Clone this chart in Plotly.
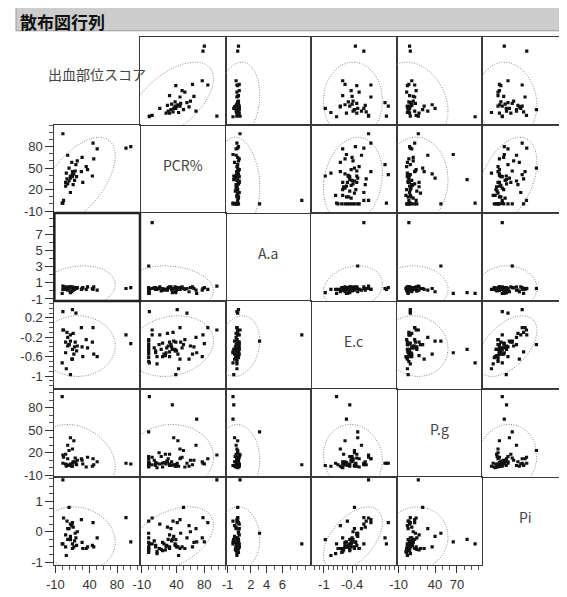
import numpy as np
import plotly.graph_objects as go

# ---------------- data ----------------
labels = ["出血部位スコア", "PCR%", "A.a", "E.c", "P.g", "Pi"]

score = [100, 93, 1, None, None, 0, None, None, 45, 46, 44, 51, 8, 22, 20, 37, 35, 14, 1, 15, 12,
         None, None, None, None, None, None, None, None,
         None, None, None, None, 5, 5, None, 7, None, 8, None, 10, None, None, 12, None, None, 15, 15, 16, 17, 18, 19, None, 21,
         None, 2, 12, 6, None, 29, 28, 30, 10]
pcr = [80, 78, 98, 5, 0, 1, 34, 69, 85, 63, 39, 77, 68, 60, 55, 48, 52, 58, 1, 41, 39,
       0, 0, 0, 0, 0, 0, 0, 0,
       10, 15, 20, 8, 25, 30, 18, 35, 22, 28, 40, 32, 12, 26, 36, 30, 20, 45, 38, 27, 42, 33, 46, 24, 38,
       12, 5, 16, 43, 10, 65, 45, 30, 50]
aa = [0.4, 0.3, 0.6, 8.5, 3.1, -0.3, -0.2, -0.3, 0.2, 0.5, 0.3, 0.1, 0.1, 0.4, 0.3, 0.5, 0.2, -0.1, 0.2, 0.4, -0.2,
      0.1, 0.3, -0.1, 0.2, 0.4, 0.0, 0.2, -0.3,
      0.2, 0.3, 0.1, 0.4, 0.2, 0.5, 0.0, 0.3, 0.2, 0.4, 0.1, 0.5, 0.3, 0.2, -0.1, 0.4, 0.3, 0.2, 0.5, 0.1, 0.3, 0.2, 0.4, 0.1, 0.3,
      0.2, 0.3, 0.5, 0.2, 0.4, 0.3, 0.2, 0.4, 0.3]
ec = [-0.33, -0.15, -0.05, -0.15, -0.28, -0.73, -0.45, -0.52, 0.0, -0.55, -0.3, -0.6, -0.2, -0.38, 0.30, -0.42, -0.25, -0.65, 0.33, 0.37, -0.97,
      -0.35, -0.45, -0.55, -0.25, -0.62, -0.4, -0.7, -0.5,
      -0.48, -0.35, -0.6, -0.42, -0.52, -0.3, -0.45, -0.1, -0.55, -0.38, -0.48, -0.35, -0.6, -0.42, -0.28, -0.5, -0.32, -0.65, -0.45, -0.12, -0.55, -0.4, -0.3, -0.58, -0.48,
      -0.75, -0.05, -0.15, -0.85, -0.52, -0.4, 0.0, -0.6, -0.35]
pg = [5, 6, 17, 4, 48, 95, 84, 65, 12, 4, 2, 8, 30, 10, 6, 14, 1, 2, 6, 6, 3,
      2, 5, 8, 12, 1, 15, 4, 3,
      3, 20, 1, 10, 5, 18, 15, 4, 7, 12, 4, 3, 0, 9, 40, 3, 6, 25, 2, 8, 36, 8, 13, 18, 4,
      6, 14, 5, 2, 7, 10, 12, 5, 23]
pi = [-0.33, 0.46, 1.7, -0.4, -0.05, -0.4, -0.25, -0.33, 0.3, -0.5, -0.45, -0.2, 0.1, 0.0, -0.2, -0.5, -0.55, 0.2, -0.4, 0.3, -0.26,
      -0.5, -0.62, -0.35, -0.55, -0.68, -0.2, -0.55, 0.35,
      -0.45, -0.55, -0.62, -0.3, -0.5, -0.1, -0.58, 0.35, -0.4, -0.25, -0.5, 0.1, -0.65, -0.45, -0.15, -0.5, -0.35, -0.55, -0.4, 0.15, -0.5, -0.3, -0.05, -0.6, -0.45,
      -0.72, 0.45, 0.25, -0.78, -0.5, -0.35, 0.4, -0.55, 0.8]

series = [score, pcr, aa, ec, pg, pi]

# axis ranges per variable (rows / columns)
y_ranges = [[-11.4, 113.4], [-12.5, 110.5], [-1.25, 9.7], [-1.27, 0.55], [-12.6, 105], [-1.1, 1.79]]
x_ranges = [[-11.4, 113.4], [-12.5, 110.5], [-1.25, 9.7], [-1.27, 0.55], [-12.6, 105], [-1.1, 1.84]]

y_tickvals = [[80, 50, 20, -10], [80, 50, 20, -10], [7, 5, 3, 1, -1], [0.2, -0.2, -0.6, -1], [80, 50, 20, -10], [1, 0, -1]]
y_ticktext = [["80", "50", "20", "-10"], ["80", "50", "20", "-10"], ["7", "5", "3", "1", "-1"],
              ["0.2", "-0.2", "-0.6", "-1"], ["80", "50", "20", "-10"], ["1", "0", "-1"]]
x_tickvals = [[-10, 40, 80], [-10, 40, 80], [-1, 2, 4, 6], [-1, -0.4], [-10, 40, 70], [-1, 0, 1]]
x_ticktext = [["-10", "40", "80"], ["-10", "40", "80"], ["-1", "2", "4", "6"], ["-1", "-0.4"],
              ["-10", "40", "70"], ["-1", "0", "1"]]
minor_step = [10, 10, 1, 0.1, 10, 0.25]
minor_start = [-10, -10, -1, -1.2, -10, -1]

# ---------------- layout geometry ----------------
# the page body has an 8px margin, so the figure is placed 8px right/down
OFF = 8
W, H = 567 - OFF, 597 - OFF
col_px = [47, 134, 221, 308, 395, 482, 567]
row_px = [37, 126, 215, 304, 393, 482, 571]
col_edges = [v - OFF for v in col_px]
row_edges = [v - OFF for v in row_px]

def arr(v):
    return np.array([np.nan if a is None else a for a in v], dtype=float)

data = [arr(s) for s in series]

fig = go.Figure()
layout_axes = {}
annotations = []
K = np.sqrt(5.991)
tt = np.linspace(0, 2 * np.pi, 240)
tick_font = dict(family="Liberation Sans, Arial", size=13, color="#333")

for r in range(6):
    for c in range(6):
        idx = r * 6 + c + 1
        sfx = "" if idx == 1 else str(idx)
        xd = [col_edges[c] / W, min(1.0, col_edges[c + 1] / W)]
        yd = [1 - row_edges[r + 1] / H, 1 - row_edges[r] / H]
        xa = dict(domain=xd, anchor="y" + sfx, range=x_ranges[c], showline=True, mirror=True,
                  linecolor="#3a3a3a", linewidth=1, showgrid=False, zeroline=False,
                  showticklabels=False, ticks="")
        ya = dict(domain=yd, anchor="x" + sfx, range=y_ranges[r], showline=True, mirror=True,
                  linecolor="#3a3a3a", linewidth=1, showgrid=False, zeroline=False,
                  showticklabels=False, ticks="")
        if r == 5:
            xa.update(showticklabels=True, ticks="outside", ticklen=7, tickwidth=1, tickcolor="#333",
                      tickmode="array", tickvals=x_tickvals[c], ticktext=x_ticktext[c], tickfont=tick_font,
                      minor=dict(ticks="outside", ticklen=4, tickwidth=1, tickcolor="#555",
                                 tick0=minor_start[c], dtick=minor_step[c]))
        if c == 0:
            ya.update(showticklabels=True, ticks="outside", ticklen=8, tickwidth=1, tickcolor="#333",
                      tickmode="array", tickvals=y_tickvals[r], ticktext=y_ticktext[r], tickfont=tick_font,
                      minor=dict(ticks="outside", ticklen=4, tickwidth=1, tickcolor="#555",
                                 tick0=minor_start[r], dtick=minor_step[r]))
        layout_axes["xaxis" + sfx] = xa
        layout_axes["yaxis" + sfx] = ya

        if r == c:
            cx = (col_px[c] + (570 if c == 5 else col_px[c + 1])) / 2 - OFF
            cy = (row_edges[r] + row_edges[r + 1]) / 2 - (7 if r == 0 else 4)
            annotations.append(dict(x=cx / W, y=1 - cy / H, xref="paper", yref="paper", text=labels[r],
                                    showarrow=False, xanchor="center", yanchor="middle",
                                    font=dict(family="Noto Sans CJK JP, Liberation Sans", size=14, color="#444")))
            continue

        xv, yv = data[c], data[r]
        m = ~np.isnan(xv) & ~np.isnan(yv)
        # density ellipse (95%): means/sds from each column, correlation from pairs
        mx, sx = np.nanmean(xv), np.nanstd(xv, ddof=1)
        my, sy = np.nanmean(yv), np.nanstd(yv, ddof=1)
        rho = np.corrcoef(xv[m], yv[m])[0, 1]
        cov = np.array([[sx * sx, rho * sx * sy], [rho * sx * sy, sy * sy]])
        vals, vecs = np.linalg.eigh(cov)
        circ = np.vstack([np.cos(tt), np.sin(tt)]) * (np.sqrt(vals)[:, None] * K)
        pts = vecs @ circ
        fig.add_trace(go.Scatter(x=pts[0] + mx, y=pts[1] + my, mode="lines", xaxis="x" + sfx, yaxis="y" + sfx,
                                 line=dict(color="#8c8c8c", width=1, dash="1px,1.5px"),
                                 hoverinfo="skip", showlegend=False))
        fig.add_trace(go.Scatter(x=xv[m], y=yv[m], mode="markers", xaxis="x" + sfx, yaxis="y" + sfx,
                                 marker=dict(symbol="square", size=3.2, color="#111", line=dict(width=0)),
                                 showlegend=False))

shapes = [
    # title bar
    dict(type="rect", xref="paper", yref="paper", x0=0, x1=1.02, y0=1 - (31 - OFF) / H, y1=1.01,
         fillcolor="#cdcdcd", line=dict(color="#9a9a9a", width=1), layer="below"),
    # highlighted cell (row 3, col 1)
    dict(type="rect", xref="paper", yref="paper", x0=col_edges[0] / W, x1=col_edges[1] / W,
         y0=1 - row_edges[3] / H, y1=1 - row_edges[2] / H, line=dict(color="#222", width=2.5)),
]
annotations.append(dict(x=3 / W, y=1.0, xref="paper", yref="paper", text="<b>散布図行列</b>",
                        showarrow=False, xanchor="left", yanchor="top", borderpad=0,
                        font=dict(family="Noto Sans CJK JP", size=17, color="#111")))

fig.update_layout(width=W, height=H, margin=dict(l=0, r=0, t=0, b=0), paper_bgcolor="white",
                  plot_bgcolor="white", showlegend=False, shapes=shapes, annotations=annotations,
                  **layout_axes)
fig.write_html("out.html")
